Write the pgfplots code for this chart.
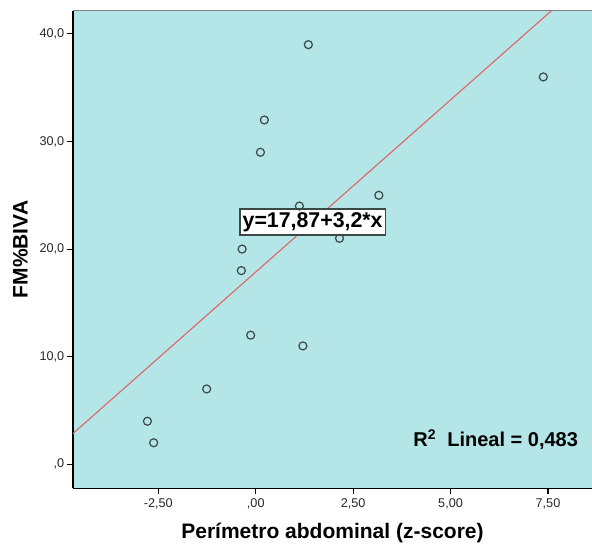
\documentclass[border=0pt]{standalone}
\usepackage{fontspec}
\setmainfont{Liberation Sans}
\usepackage{pgfplots}
\pgfplotsset{compat=1.18}

\definecolor{bgcyan}{RGB}{180,229,231}
\definecolor{fitred}{RGB}{226,98,98}
\definecolor{markgray}{RGB}{60,72,72}
\definecolor{framegray}{RGB}{128,128,128}

\begin{document}
\begin{tikzpicture}
\begin{axis}[
  scale only axis,
  width=389.25pt, height=358.2pt,
  xmin=-4.69, xmax=8.63,
  ymin=-2.23, ymax=42.16,
  axis background/.style={fill=bgcyan},
  axis x line*=bottom,
  axis y line*=left,
  axis line style={black, line width=0.8pt},
  tick align=outside,
  major tick length=4.5pt,
  tick style={black, line width=0.8pt},
  xtick={-2.5,0,2.5,5,7.5},
  xticklabels={{-2,50},{,00},{2,50},{5,00},{7,50}},
  ytick={0,10,20,30,40},
  yticklabels={{,0},{10,0},{20,0},{30,0},{40,0}},
  xticklabel style={font=\fontsize{9.5}{11}\selectfont, text=black!85},
  yticklabel style={font=\fontsize{9.5}{11}\selectfont, text=black!85, xshift=1.5pt},
  xlabel={\textbf{Perímetro abdominal (z-score)}},
  ylabel={\textbf{FM\%BIVA}},
  label style={font=\fontsize{15.75}{18}\selectfont},
  xlabel style={yshift=-3.5pt},
  ylabel style={yshift=2pt},
  clip=true,
]
% least-squares fit line y = 17.87 + 3.2 x
\addplot[fitred, line width=0.8pt] coordinates {(-4.69,2.862) (8.63,45.486)};
% observations
\addplot[only marks, mark=o, mark size=3pt,
  mark options={draw=markgray, line width=0.9pt}] coordinates {
  (-2.78,4) (-2.62,2) (-1.26,7) (-0.13,12) (1.21,11)
  (-0.37,18) (-0.35,20) (2.15,21) (1.12,24) (3.16,25)
  (0.12,29) (0.22,32) (1.35,39) (7.38,36)
};
\draw[framegray, line width=1pt] (rel axis cs:0,1) -- (rel axis cs:1,1);
\node[draw=markgray, fill=white, line width=0.8pt, inner xsep=2pt, inner ysep=2.5pt,
  font=\fontsize{16}{18}\selectfont\bfseries] at (axis cs:1.46,22.52) {y=17,87+3,2*x};
\node[anchor=east, font=\fontsize{15}{18}\selectfont\bfseries] at (axis cs:8.39,2.32)
  {R\textsuperscript{2}\ \ Lineal = 0,483};
\end{axis}
\pgfresetboundingbox
\path[use as bounding box] (-54.75pt,-44pt) rectangle (389.25pt,366.2pt);
\end{tikzpicture}
\end{document}
